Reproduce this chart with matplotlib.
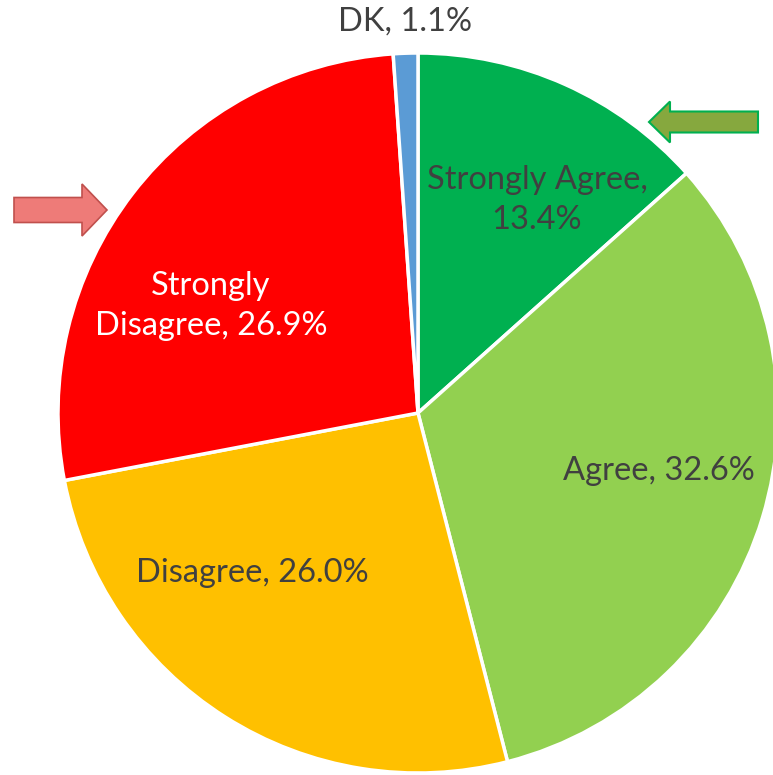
import matplotlib.pyplot as plt
from matplotlib.patches import FancyArrow

categories = ["Strongly Agree", "Agree", "Disagree", "Strongly Disagree", "DK"]
shares = [13.4, 32.6, 26.0, 26.9, 1.1]
colors = ["#00B050", "#92D050", "#FFC000", "#FF0000", "#5B9BD5"]
label_text = ["Strongly Agree,\n13.4%", "Agree, 32.6%", "Disagree, 26.0%",
              "Strongly\nDisagree, 26.9%", "DK, 1.1%"]

W, H = 773, 775
fig = plt.figure(figsize=(W / 100, H / 100), dpi=100)
ax = fig.add_axes([0, 0, 1, 1])

cx, cy, r = 418, H - 413, 360
ax.pie(shares, colors=colors, startangle=90, counterclock=False,
       center=(cx, cy), radius=r, frame=True,
       wedgeprops=dict(edgecolor="white", linewidth=2.5))
ax.set_xlim(0, W)
ax.set_ylim(0, H)
ax.set_aspect("equal")
ax.axis("off")

# label positions in pixels (x, y from top)
label_pos = [(537, 200), (659, 471), (252, 573), (211, 306), (405, 22)]
label_col = ["#404040", "#404040", "#404040", "white", "#404040"]
for txt, (x, y), c in zip(label_text, label_pos, label_col):
    ax.text(x, H - y, txt, ha="center", va="center", fontsize=23.5,
            color=c, family="Lato", linespacing=1.4)

# red arrow pointing right
ax.add_patch(FancyArrow(14, H - 210, 93, 0, width=25, head_width=52,
                        head_length=25, length_includes_head=True,
                        facecolor="#EE7B78", edgecolor="#C0504D", linewidth=1.2))
# green arrow pointing left
ax.add_patch(FancyArrow(758, H - 122, -109, 0, width=21, head_width=41,
                        head_length=21, length_includes_head=True,
                        facecolor="#86A83E", edgecolor="#00B050", linewidth=1.5))

fig.savefig("out.png", dpi=100)
